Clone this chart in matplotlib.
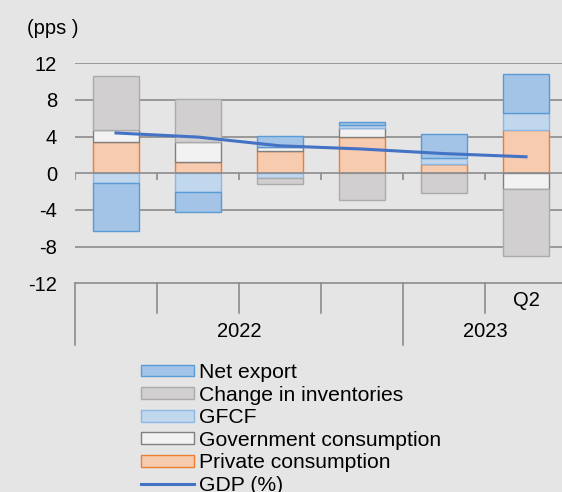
import numpy as np
import matplotlib.pyplot as plt
from matplotlib.patches import Patch
from matplotlib.lines import Line2D

plt.rcParams['font.family'] = ['Liberation Sans', 'DejaVu Sans']

# data (pps)
quarters = ['', '', '', '', '', 'Q2']
years = ['2022', '2023']
year_counts = [4, 2]
private = [3.42, 1.2, 2.4, 3.97, 1.06, 4.69]
government = [1.34, 2.22, 0.44, 1.0, 0.0, -1.67]
gfcf = [-1.05, -2.03, -0.5, 0.33, 0.62, 1.89]
inventories = [5.9, 4.73, -0.65, -2.94, -2.18, -7.38]
net_export = [-5.2, -2.18, 1.2, 0.25, 2.62, 4.29]
gdp = [4.4, 3.95, 3.0, 2.65, 2.15, 1.8]

yticks = [-12, -8, -4, 0, 4, 8, 12]

bg = '#e5e5e5'
grid_col = '#8c8c8c'
series = [
    ('Private consumption', private, '#f6cbb0', '#ed7d31'),
    ('Government consumption', government, '#f2f2f2', '#808080'),
    ('GFCF', gfcf, '#c0d7ee', '#8db8e3'),
    ('Change in inventories', inventories, '#d1cfcf', '#ababab'),
    ('Net export', net_export, '#a3c4e6', '#5b9bd5'),
]

fig = plt.figure(figsize=(5.62, 4.92), dpi=100, facecolor=bg)
ax = fig.add_axes([75 / 562, 1 - 283.3 / 492, 492 / 562, 220 / 492])
ax.set_facecolor(bg)

n = len(quarters)
x = np.arange(n)
width = 0.56

for y in [12, 8, 4, -4, -8]:
    ax.axhline(y, color=grid_col, lw=1.2, zorder=0)
ax.axhline(0, color=grid_col, lw=1.2, zorder=3)
ax.axhline(-12, color=grid_col, lw=1.2, zorder=0, clip_on=False)

pos = np.zeros(n)
neg = np.zeros(n)
for name, vals, fc, ec in series:
    v = np.array(vals)
    bottom = np.where(v >= 0, pos, neg)
    ax.bar(x, v, width, bottom=bottom, color=fc, edgecolor=ec, linewidth=1.0, zorder=2)
    pos = pos + np.where(v >= 0, v, 0)
    neg = neg + np.where(v < 0, v, 0)

ax.plot(x, gdp, color='#4472c4', lw=2.2, zorder=4)

ax.set_xlim(-0.5, n - 0.5)
ax.set_ylim(-12, 12)
for s in ax.spines.values():
    s.set_visible(False)
ax.set_xticks([])
ax.set_yticks(yticks)
ax.set_yticklabels([str(t) for t in yticks])
ax.tick_params(axis='y', length=0, labelsize=14.5, pad=13)

# tick marks on the zero line
bounds = np.arange(n + 1) - 0.5
ax.vlines(bounds, -0.7, 0, color=grid_col, lw=1.2, zorder=3)

# multi-level category labels below the plot
trans = ax.get_xaxis_transform()
group_edges = np.concatenate([[0], np.cumsum(year_counts)]) - 0.5
for b in bounds:
    low = -0.28 if b in group_edges else -0.136
    ax.plot([b, b], [0, low], color=grid_col, lw=1.2, transform=trans, clip_on=False)
for i, q in enumerate(quarters):
    ax.text(i, -0.08, q, transform=trans, ha='center', va='center', fontsize=14.5)
for i, yr in enumerate(years):
    c = (group_edges[i] + group_edges[i + 1]) / 2
    ax.text(c, -0.22, yr, transform=trans, ha='center', va='center', fontsize=14.5)

fig.text(27 / 562, 1 - 28 / 492, '(pps )', ha='left', va='center', fontsize=14.5)

handles = [Patch(facecolor=fc, edgecolor=ec, label=name)
           for name, vals, fc, ec in series[::-1]]
handles.append(Line2D([], [], color='#4472c4', lw=2.2, label='GDP (%)'))
fig.legend(handles=handles, loc='upper left', bbox_to_anchor=(141 / 562, 1 - 363 / 492),
           frameon=False, fontsize=15.2, borderpad=0, borderaxespad=0,
           labelspacing=0.17, handlelength=2.5, handleheight=0.48, handletextpad=0.25)

fig.savefig('out.png', dpi=100, facecolor=bg)
